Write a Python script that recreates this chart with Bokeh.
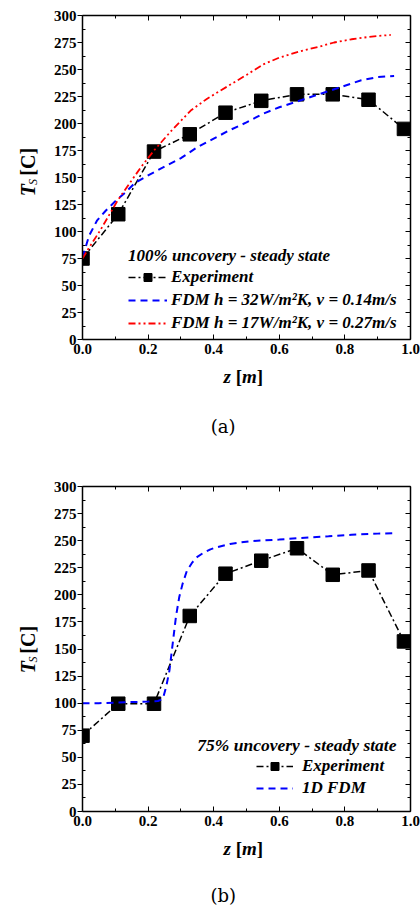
import math
from bokeh.plotting import figure
from bokeh.models import (Range1d, LinearAxis, FixedTicker, Legend, LegendItem,
                          CustomJSTickFormatter, Label)
from bokeh.layouts import column, row
from bokeh.core.properties import value
from bokeh.embed import file_html
from bokeh.resources import INLINE

# ---------------- data ----------------
z_exp = [0.0, 0.109, 0.218, 0.327, 0.436, 0.545, 0.654, 0.763, 0.872, 0.98]
T_exp_a = [75, 116, 174, 190, 210, 221, 227, 227, 222, 195]
T_exp_b = [70, 99.5, 99.5, 180.5, 219.5, 231.5, 243, 218.5, 222.5, 157]

z_fdm32_a = [0.0, 0.02, 0.044, 0.07, 0.1, 0.13, 0.16, 0.2, 0.25, 0.3, 0.35, 0.4,
             0.45, 0.5, 0.55, 0.6, 0.65, 0.7, 0.75, 0.8, 0.85, 0.9, 0.95]
T_fdm32_a = [76, 96, 110, 119, 128, 136, 145, 152, 160, 168, 178, 186,
             194, 201, 209, 215, 220, 225, 230, 235, 240, 243, 244]

z_fdm17_a = [0.0, 0.02, 0.054, 0.107, 0.178, 0.218, 0.27, 0.33, 0.38, 0.44, 0.5,
             0.553, 0.6, 0.665, 0.72, 0.767, 0.82, 0.869, 0.9, 0.94]
T_fdm17_a = [75, 85, 101, 128.7, 159.5, 175, 193, 212, 223, 234, 245,
             255, 261, 267, 271, 275, 278, 280, 281, 282]

z_fdm_b = [0.0, 0.05, 0.1, 0.15, 0.2, 0.23, 0.245, 0.255, 0.265, 0.275, 0.285, 0.295,
           0.305, 0.318, 0.335, 0.35, 0.37, 0.39, 0.41, 0.45, 0.51, 0.6, 0.66, 0.75,
           0.82, 0.9, 0.95]
T_fdm_b = [100, 100, 100.5, 101, 101.5, 102, 104, 115, 130, 155, 180, 198,
           210, 222, 230, 235, 239, 242, 244, 247, 249.5, 251, 252.3, 254,
           255.4, 256.5, 257]

x_ticks = [0.0, 0.2, 0.4, 0.6, 0.8, 1.0]
x_tick_labels = ["0.0", "0.2", "0.4", "0.6", "0.8", "1.0"]
x_minor = [0.1, 0.3, 0.5, 0.7, 0.9]
y_ticks = [0, 25, 50, 75, 100, 125, 150, 175, 200, 225, 250, 275, 300]
y_minor = [12.5, 37.5, 62.5, 87.5, 112.5, 137.5, 162.5, 187.5, 212.5, 237.5, 262.5, 287.5]

legend_a = ["Experiment", "FDM h = 32W/m\u00b2K, v = 0.14m/s", "FDM h = 17W/m\u00b2K, v = 0.27m/s"]
title_a = "100% uncovery - steady state"
legend_b = ["Experiment", "1D FDM"]
title_b = "75% uncovery - steady state"
x_label_parts = [("z", "bold italic"), ("[", "bold"), ("m", "bold italic"), ("]", "bold")]
y_label_parts = [("T", "bold italic"), ("S", "italic"), ("[C]", "bold")]
captions = ["(a)", "(b)"]

SERIF = "Liberation Serif"
YLAB_W = 44          # width of the y-label strip
MAIN_W = 420 - YLAB_W
BL, BR = 38, 10      # frame borders inside the main figure
FW = MAIN_W - BL - BR
LEG_FS = "17px"
MARKER = 13.5


def style_axes(p):
    p.grid.visible = False
    p.outline_line_color = None
    xa, ya = p.xaxis[0], p.yaxis[0]
    xa.ticker = FixedTicker(ticks=x_ticks, minor_ticks=x_minor)
    ya.ticker = FixedTicker(ticks=y_ticks, minor_ticks=y_minor)
    xa.major_label_overrides = dict(zip(x_ticks, x_tick_labels))
    for ax in (xa, ya):
        ax.axis_line_width = 1.5
        ax.major_label_text_font = SERIF
        ax.major_label_text_font_style = "bold"
        ax.major_label_text_font_size = "15px"
        ax.major_label_text_color = "black"
        ax.major_tick_line_width = 1
        ax.minor_tick_line_width = 1
    xa.major_tick_in, xa.major_tick_out = 5, 0
    xa.minor_tick_in, xa.minor_tick_out = 3, 0
    xa.major_label_standoff = 4
    ya.major_tick_in, ya.major_tick_out = 0, 5
    ya.minor_tick_in, ya.minor_tick_out = 3, 0
    ya.major_label_standoff = 1
    for loc, tk, mt in (("above", x_ticks, x_minor), ("right", y_ticks, y_minor)):
        ax = LinearAxis(ticker=FixedTicker(ticks=tk, minor_ticks=mt),
                        formatter=CustomJSTickFormatter(code="return ''"))
        ax.axis_line_width = 1.5
        ax.major_label_standoff = 0
        ax.major_tick_in, ax.major_tick_out = 5, 0
        ax.minor_tick_in, ax.minor_tick_out = 3, 0
        p.add_layout(ax, loc)


def make_main(height, top, fh, bottom):
    p = figure(width=MAIN_W, height=height, x_range=Range1d(0, 1), y_range=Range1d(0, 300),
               output_backend="svg", toolbar_location=None,
               min_border_left=BL, min_border_right=BR,
               min_border_top=top, min_border_bottom=bottom)
    style_axes(p)
    return p


def text_fig(w, h):
    f = figure(width=w, height=h, x_range=Range1d(0, w), y_range=Range1d(0, h),
               output_backend="svg", toolbar_location=None, min_border=0,
               x_axis_type=None, y_axis_type=None)
    f.outline_line_color = None
    f.grid.visible = False
    return f


def ylabel_fig(h, y_center):
    f = text_fig(YLAB_W, h)
    ys = y_center - 25
    pos = [(27, ys, "20px"), (32.5, ys + 12.5, "12px"), (27, ys + 23, "20px")]
    for (t, st), (x, y, fs) in zip(y_label_parts, pos):
        f.text(x=[x], y=[y], text=[t], angle=math.pi / 2, text_font=value(SERIF),
               text_font_style=st, text_font_size=fs, text_align="left",
               text_baseline="middle", text_color="black")
    return f


def xlabel_fig(h, y_lab, y_cap, caption):
    f = text_fig(420, h)
    xs = [223, 235.2, 241.5, 256.3]
    for (t, st), x in zip(x_label_parts, xs):
        f.text(x=[x], y=[y_lab], text=[t], text_font=value(SERIF), text_font_style=st,
               text_font_size="19px", text_align="left", text_baseline="middle",
               text_color="black")
    f.text(x=[222.7], y=[y_cap], text=[caption], text_font=value("DejaVu Serif"),
           text_font_size="18px", text_align="center", text_baseline="middle",
           text_color="black")
    return f


def legend_style(lg):
    lg.label_text_font = SERIF
    lg.label_text_font_style = "bold italic"
    lg.label_text_font_size = LEG_FS
    lg.label_text_color = "black"
    lg.border_line_color = None
    lg.background_fill_alpha = 0
    lg.padding = 0
    lg.margin = 0
    lg.label_height = 20
    lg.glyph_height = 20


# ---------------- panel (a) ----------------
H1 = 364
p1 = make_main(H1, 15, 324, 25)
r1 = p1.line(z_exp, T_exp_a, line_color="black", line_width=1.5, line_dash="7 3 2 3")
s1 = p1.scatter(z_exp, T_exp_a, marker="square", size=MARKER, fill_color="black", line_color="black")
b1 = p1.line(z_fdm32_a, T_fdm32_a, line_color="#0000ff", line_width=2, line_dash="7 5")
d1 = p1.line(z_fdm17_a, T_fdm17_a, line_color="#ff0000", line_width=1.8, line_dash="7 3 2 3 2 3")
lg1 = Legend(items=[LegendItem(label=legend_a[0], renderers=[r1, s1]),
                    LegendItem(label=legend_a[1], renderers=[b1]),
                    LegendItem(label=legend_a[2], renderers=[d1])],
             location=(46, 6), title=title_a)
legend_style(lg1)
lg1.title_text_font = SERIF
lg1.title_text_font_style = "bold italic"
lg1.title_text_font_size = LEG_FS
lg1.title_text_color = "black"
lg1.title_standoff = 1
lg1.spacing = 3
lg1.glyph_width = 39
lg1.label_standoff = 4
p1.add_layout(lg1)
ylab1 = ylabel_fig(H1, H1 - 178)
xlab1 = xlabel_fig(90, 90 - 12, 90 - 62, captions[0])

# ---------------- panel (b) ----------------
H2 = 382
p2 = make_main(H2, 32, 325, 25)
r2 = p2.line(z_exp, T_exp_b, line_color="black", line_width=1.5, line_dash="7 3 2 3")
s2 = p2.scatter(z_exp, T_exp_b, marker="square", size=MARKER, fill_color="black", line_color="black")
b2 = p2.line(z_fdm_b, T_fdm_b, line_color="#0000ff", line_width=2, line_dash="7 5")
lg2 = Legend(items=[LegendItem(label=legend_b[0], renderers=[r2, s2]),
                    LegendItem(label=legend_b[1], renderers=[b2])],
             location=(174, 13))
legend_style(lg2)
lg2.spacing = 2
lg2.glyph_width = 37
lg2.label_standoff = 9
p2.add_layout(lg2)
p2.add_layout(Label(x=(396 - 82) / FW, y=(811 - 744) * 300.0 / 325, text=title_b, text_font=SERIF,
                    text_font_style="bold italic", text_font_size="17.5px", text_align="right",
                    text_baseline="middle", text_color="black"))
ylab2 = ylabel_fig(H2, H2 - 194.5)
xlab2 = xlabel_fig(72, 72 - 12, 72 - 59, captions[1])

layout = column(row(ylab1, p1), xlab1, row(ylab2, p2), xlab2)
open("out.html", "w").write(file_html(layout, INLINE))
